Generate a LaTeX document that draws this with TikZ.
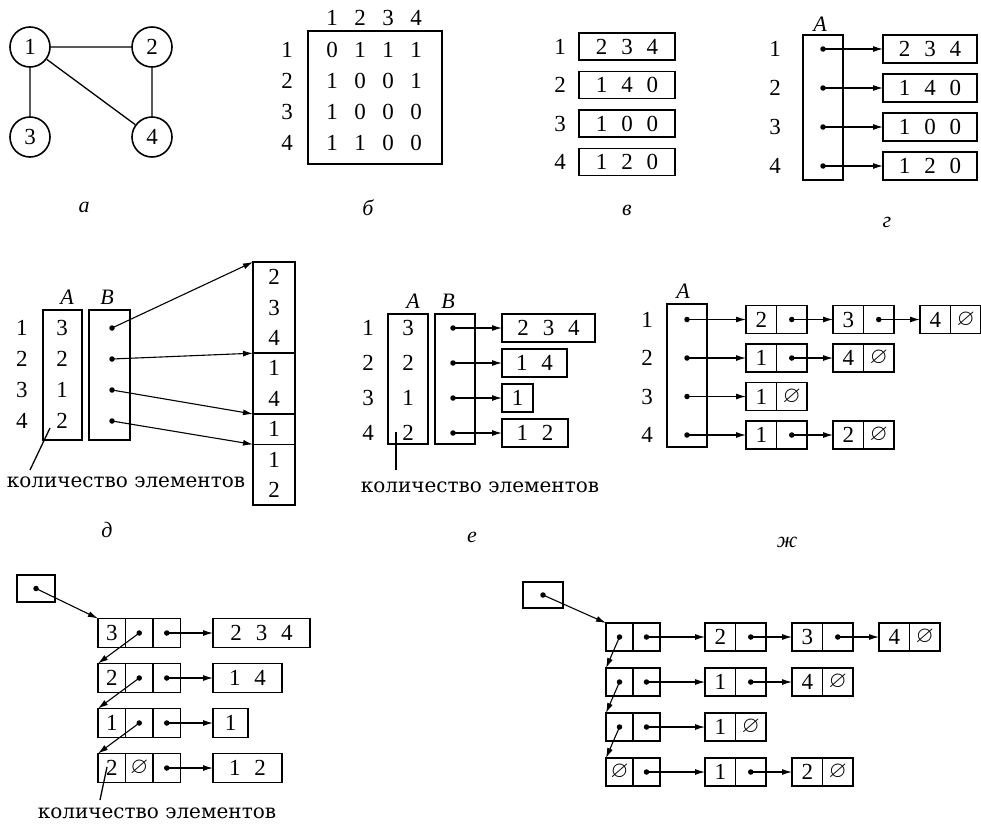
\documentclass[tikz,border=0pt]{standalone}
\usepackage{amssymb}
\usepackage{fontspec}
\setmainfont{Liberation Serif}
\newfontfamily\capfont{DejaVu Serif}
\usetikzlibrary{arrows.meta,positioning}
\newcommand{\dsp}{\hspace{0.6em}}
\tikzset{
  num/.style={inner sep=0pt,font=\fontsize{23}{26}\selectfont},
  lbl/.style={inner sep=0pt,font=\fontsize{22}{26}\selectfont\itshape},
  capt/.style={inner sep=0pt,font=\capfont\fontsize{20}{24}\selectfont},
  vtx/.style={num,circle,draw,line width=1.6pt,minimum size=40pt},
  box/.style={num,draw,line width=1.6pt,outer sep=0pt,minimum height=28pt},
  col/.style={box,minimum width=42pt,align=center,font=\fontsize{23}{30.4}\selectfont},
  cell/.style={box,minimum width=30.5pt},
  ptr/.style={cell,label={[pdot]center:}},
  nul/.style={cell,label={[num]center:$\varnothing$}},
  pdot/.style={circle,fill,inner sep=0pt,minimum size=5.5pt},
  ar/.style={-{Latex[length=10pt,width=6pt]},line width=1.1pt},
  ln/.style={line width=1.3pt},
}

\begin{document}
\begin{tikzpicture}[x=1pt,y=-1pt]
  \useasboundingbox (0,0) rectangle (981,827);
  % a: graph
  \node[vtx] (v1) at (30,47) {1};
  \node[vtx] (v2) at (152,47) {2};
  \node[vtx] (v3) at (30,137) {3};
  \node[vtx] (v4) at (152,137) {4};
  \draw[ln] (v1)--(v2) (v1)--(v3) (v1)--(v4) (v2)--(v4);
  \node[lbl] (la) at (84,207) {а};
  % b: adjacency matrix
  \node[box,minimum width=134pt,minimum height=133pt] (mat) at (375,97.5) {};
  \foreach \j in {1,...,4} \node[num] (mh\j) at ({304+28*\j},18) {\j};
  \foreach \a/\b/\c/\d [count=\i] in {0/1/1/1,1/0/0/1,1/0/0/0,1/1/0/0} {
    \node[num] (mr\i) at (287,{19+31*\i}) {\i};
    \foreach \v [count=\j] in {\a,\b,\c,\d} \node[num] (m\i\j) at ({304+28*\j},{19+31*\i}) {\v};
  }
  \node[lbl] (lb) at (368,208) {б};
  % v: rows
  \foreach \t [count=\i] in {2\dsp3\dsp4,1\dsp4\dsp0,1\dsp0\dsp0,1\dsp2\dsp0} {
    \node[num] (vr\i) at (560,{8+38.5*\i}) {\i};
    \node[box,minimum width=96pt,minimum height=27pt] (vb\i) at (627,{8+38.5*\i}) {\t};
  }
  \node[lbl] (lv) at (627,210) {в};
  % g: array of pointers
  \node[box,minimum width=40pt,minimum height=145pt] (gA) at (823,107.5) {};
  \node[lbl] (gAl) at (820,24) {A};
  \foreach \t [count=\i] in {2\dsp3\dsp4,1\dsp4\dsp0,1\dsp0\dsp0,1\dsp2\dsp0} {
    \node[num] (gr\i) at (775,{10+39*\i}) {\i};
    \node[pdot] (gd\i) at (823,{10+39*\i}) {};
    \node[box,minimum width=94pt] (gb\i) at (930,{10+39*\i}) {\t};
    \draw[ar] (gd\i.center)--(gb\i);
  }
  \node[lbl] (lg) at (887,222) {г};
  % d: counts and one column
  \node[box,minimum width=39pt,minimum height=130pt] (dA) at (62.5,375) {};
  \node[box,minimum width=41pt,minimum height=130pt] (dB) at (109.5,375) {};
  \node[lbl] (dAl) at (67,297) {A};
  \node[lbl] (dBl) at (107,297) {B};
  \foreach \n [count=\i] in {3,2,1,2} {
    \node[num] (dr\i) at (22,{297+31*\i}) {\i};
    \node[num] (da\i) at (62,{297+31*\i}) {\n};
    \node[pdot] (dd\i) at (112,{297+31*\i}) {};
  }
  \node[col,minimum height=91.2pt] (dg1) at (274,307.6) {2\\3\\4};
  \node[col,minimum height=60.8pt,below=0pt of dg1] (dg2) {1\\4};
  \node[col,minimum height=30.4pt,below=0pt of dg2] (dg3) {1};
  \node[col,minimum height=60.8pt,below=0pt of dg3] (dg4) {1\\2};
  \foreach \i in {1,...,4} \draw[ar] (dd\i.center)--(dg\i.north west);
  \node[capt] (dcap) at (126,482) {количество элементов};
  \coordinate (dp1) at (30,470); \coordinate (dp2) at (50,428);
  \draw[ln] (dp1)--(dp2);
  \node[lbl] (ld) at (107,530) {д};
  % e: counts and rows
  \node[box,minimum width=40pt,minimum height=130pt] (eA) at (408,379) {};
  \node[box,minimum width=40pt,minimum height=130pt] (eB) at (455,379) {};
  \node[lbl] (eAl) at (413,301) {A};
  \node[lbl] (eBl) at (448,301) {B};
  \foreach \n/\t/\w [count=\i] in {3/2\dsp3\dsp4/93,2/1\dsp4/65,1/1/31,2/1\dsp2/66} {
    \node[num] (er\i) at (368,{293+35*\i}) {\i};
    \node[num] (ea\i) at (408,{293+35*\i}) {\n};
    \node[pdot] (ed\i) at (453,{293+35*\i}) {};
    \node[box,minimum width=\w pt,anchor=west] (eb\i) at (502,{293+35*\i}) {\t};
    \draw[ar] (ed\i.center)--(eb\i);
  }
  \node[capt] (ecap) at (480,487) {количество элементов};
  \coordinate (ep1) at (396,470); \coordinate (ep2) at (396,432);
  \draw[ln] (ep1)--(ep2);
  \node[lbl] (le) at (472,537) {е};
  % zh: array of lists
  \node[box,minimum width=40pt,minimum height=143pt] (zA) at (687,375.5) {};
  \node[lbl] (zAl) at (683,291) {A};
  \foreach \i in {1,...,4} {
    \node[num] (zr\i) at (647,{281+38.5*\i}) {\i};
    \node[pdot] (zd\i) at (687,{281+38.5*\i}) {};
  }
  \node[cell,anchor=west] (zv11) at (746,319.5) {2};
  \node[ptr,right=0pt of zv11] (zp11) {};
  \node[cell,right=26pt of zp11] (zv12) {3};
  \node[ptr,right=0pt of zv12] (zp12) {};
  \node[cell,right=26pt of zp12] (zv13) {4};
  \node[nul,right=0pt of zv13] (zp13) {};
  \node[cell,anchor=west] (zv21) at (746,358) {1};
  \node[ptr,right=0pt of zv21] (zp21) {};
  \node[cell,right=26pt of zp21] (zv22) {4};
  \node[nul,right=0pt of zv22] (zp22) {};
  \node[cell,anchor=west] (zv31) at (746,396.5) {1};
  \node[nul,right=0pt of zv31] (zp31) {};
  \node[cell,anchor=west] (zv41) at (746,435) {1};
  \node[ptr,right=0pt of zv41] (zp41) {};
  \node[cell,right=26pt of zp41] (zv42) {2};
  \node[nul,right=0pt of zv42] (zp42) {};
  \foreach \i in {1,...,4} \draw[ar] (zd\i.center)--(zv\i1);
  \draw[ar] (zp11.center)--(zv12); \draw[ar] (zp12.center)--(zv13);
  \draw[ar] (zp21.center)--(zv22); \draw[ar] (zp41.center)--(zv42);
  \node[lbl] (lzh) at (787,542) {ж};
  % z: list of counted rows
  \node[ptr,minimum width=38pt,minimum height=27pt] (sh) at (36,588.5) {};
  \foreach \n/\s/\t/\w [count=\i] in {3/ptr/2\dsp3\dsp4/97,2/ptr/1\dsp4/69,1/ptr/1/35,2/nul/1\dsp2/69} {
    \node[cell,minimum width=27.5pt,minimum height=29pt,anchor=west] (sa\i) at (98,{588+45*\i}) {\n};
    \node[\s,minimum width=27.5pt,minimum height=29pt,right=0pt of sa\i] (sb\i) {};
    \node[ptr,minimum width=27.5pt,minimum height=29pt,right=0pt of sb\i] (sc\i) {};
    \node[box,minimum width=\w pt,minimum height=29pt,anchor=west] (sd\i) at (213,{588+45*\i}) {\t};
    \draw[ar] (sc\i.center)--(sd\i);
  }
  \draw[ar] (sh.center)--(sa1.north west);
  \foreach \i/\j in {1/2,2/3,3/4} \draw[ar] (sb\i.center)--(sa\j.north west);
  \node[capt] (scap) at (157,813) {количество элементов};
  \coordinate (sp1) at (100,800); \coordinate (sp2) at (107,767);
  \draw[ln] (sp1)--(sp2);
  % i: list of lists
  \node[ptr,minimum width=40pt,minimum height=26pt] (uh) at (543,595) {};
  \foreach \s [count=\i] in {ptr,ptr,ptr,nul} {
    \node[\s,minimum width=27pt,anchor=west] (ua\i) at (606,{592+45*\i}) {};
    \node[ptr,minimum width=27pt,right=0pt of ua\i] (ub\i) {};
  }
  \draw[ar] (uh.center)--(ua1.north west);
  \foreach \i/\j in {1/2,2/3,3/4} \draw[ar] (ua\i.center)--(ua\j.north west);
  \node[cell,anchor=west] (uv11) at (705,637) {2};
  \node[ptr,right=0pt of uv11] (up11) {};
  \node[cell,right=26pt of up11] (uv12) {3};
  \node[ptr,right=0pt of uv12] (up12) {};
  \node[cell,right=26pt of up12] (uv13) {4};
  \node[nul,right=0pt of uv13] (up13) {};
  \node[cell,anchor=west] (uv21) at (705,682) {1};
  \node[ptr,right=0pt of uv21] (up21) {};
  \node[cell,right=26pt of up21] (uv22) {4};
  \node[nul,right=0pt of uv22] (up22) {};
  \node[cell,anchor=west] (uv31) at (705,727) {1};
  \node[nul,right=0pt of uv31] (up31) {};
  \node[cell,anchor=west] (uv41) at (705,772) {1};
  \node[ptr,right=0pt of uv41] (up41) {};
  \node[cell,right=26pt of up41] (uv42) {2};
  \node[nul,right=0pt of uv42] (up42) {};
  \foreach \i in {1,...,4} \draw[ar] (ub\i.center)--(uv\i1);
  \draw[ar] (up11.center)--(uv12); \draw[ar] (up12.center)--(uv13);
  \draw[ar] (up21.center)--(uv22); \draw[ar] (up41.center)--(uv42);
\end{tikzpicture}
\end{document}
